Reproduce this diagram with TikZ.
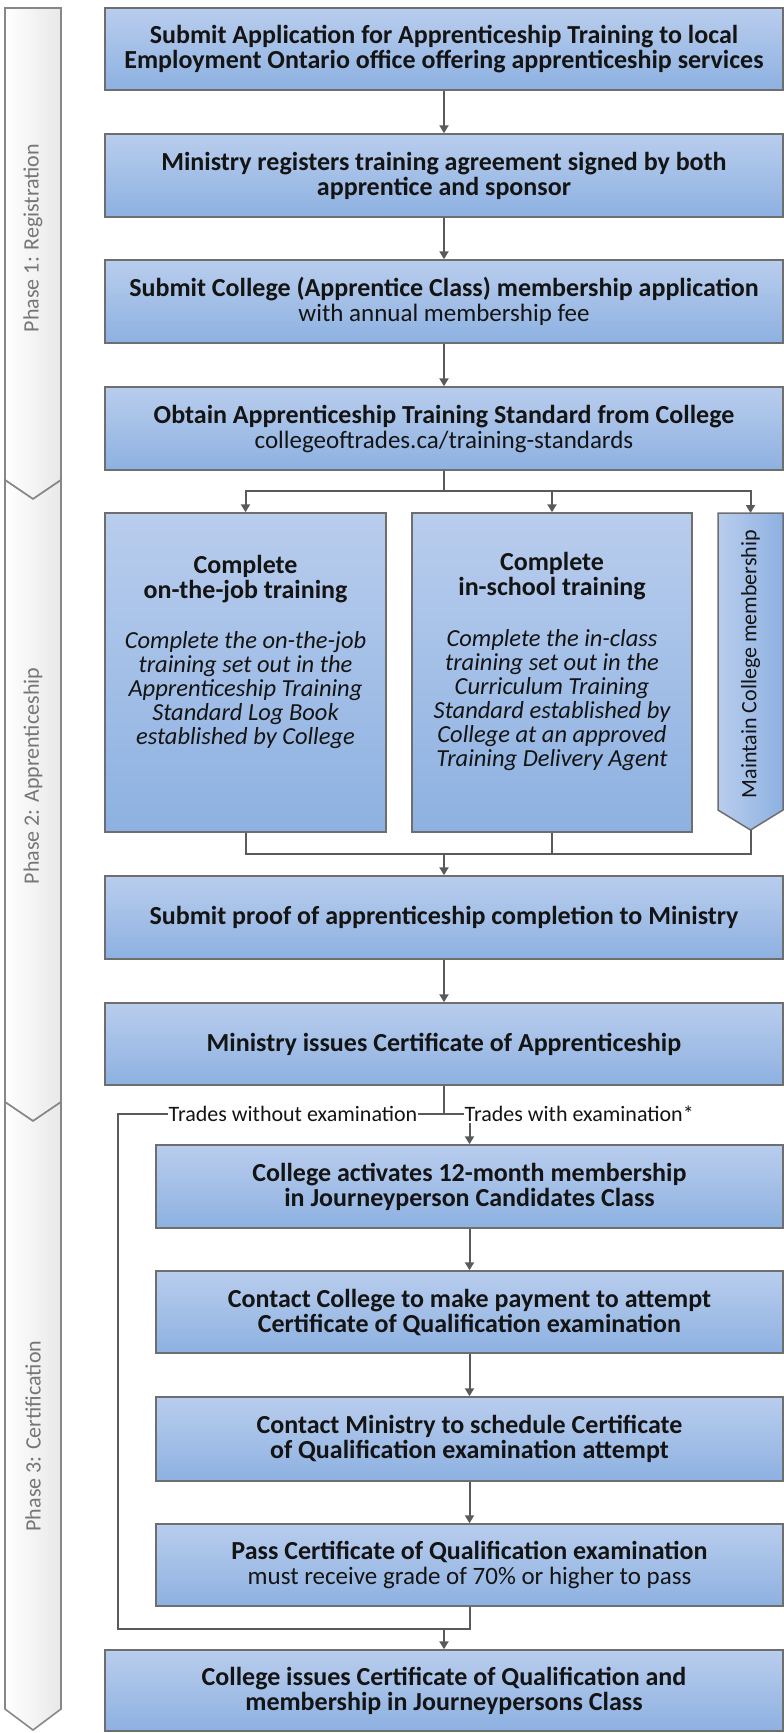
\documentclass[tikz,border=0pt]{standalone}
\usepackage{fontspec}
\setmainfont{Carlito}
\usetikzlibrary{arrows.meta,calc}
\definecolor{boxtop}{RGB}{185,205,237}
\definecolor{boxbot}{RGB}{141,177,225}
\definecolor{boxline}{RGB}{110,110,110}
\definecolor{connc}{RGB}{90,90,90}
\definecolor{phaseline}{RGB}{135,135,135}
\definecolor{phasetext}{RGB}{118,118,118}
\definecolor{txt}{RGB}{20,20,20}
\newcommand\bfbig{\fontsize{26}{25}\selectfont\bfseries}
\newcommand\rgsub{\fontsize{25}{25}\selectfont\mdseries}
\newcommand\itbody{\fontsize{24.5}{24}\selectfont\mdseries\itshape}
\begin{document}
\begin{tikzpicture}[x=1pt,y=-1pt,
 box/.style={draw=boxline, line width=1.5pt, top color=boxtop, bottom color=boxbot, inner sep=0pt, align=center, text=txt, font=\bfbig},
 wide/.style={box, minimum width=678pt, minimum height=82pt},
 mid/.style={box, minimum width=627pt, minimum height=82pt},
 tall/.style={box, minimum width=280pt, minimum height=319pt},
 conn/.style={draw=connc, line width=2pt},
 arr/.style={conn, -{Triangle[width=9pt,length=8pt]}},
 phase/.style={draw=phaseline, line width=1.6pt, left color=white, right color=black!9},
 phaselabel/.style={text=phasetext, rotate=90, inner sep=0pt, font=\fontsize{22}{24}\selectfont},
 lab/.style={fill=white, inner xsep=0.5pt, inner ysep=1pt, font=\fontsize{22}{22}\selectfont, text=txt},
 ttl/.style={align=center, inner sep=0pt, text=txt, font=\bfbig},
 body/.style={align=center, inner sep=0pt, text=txt, font=\itbody}]
\useasboundingbox (0,0) rectangle (784,1733);

% phase bands
\draw[phase] (5,8) -- (61,8) -- (61,480) -- (33,499) -- (5,480) -- cycle;
\draw[phase] (5,480) -- (33,499) -- (61,480) -- (61,1102) -- (33,1121) -- (5,1102) -- cycle;
\draw[phase] (5,1102) -- (33,1121) -- (61,1102) -- (61,1709) -- (33,1730) -- (5,1709) -- cycle;
\node[phaselabel] (p1) at (33,238) {Phase 1: Registration};
\node[phaselabel] (p2) at (33,776) {Phase 2: Apprenticeship};
\node[phaselabel] (p3) at (33,1436) {Phase 3: Certification};

% boxes
\node[wide] (b1) at (444,49) {Submit Application for Apprenticeship Training to local\\Employment Ontario office offering apprenticeship services};
\node[wide, minimum height=83pt] (b2) at (444,175.5) {Ministry registers training agreement signed by both\\apprentice and sponsor};
\node[wide, minimum height=83pt] (b3) at (444,301.5) {Submit College (Apprentice Class) membership application\\\rgsub with annual membership fee};
\node[wide, minimum height=83pt] (b4) at (444,428.5) {Obtain Apprenticeship Training Standard from College\\\rgsub collegeoftrades.ca/training-standards};

\node[tall, minimum width=281pt] (otj) at (245.5,672.5) {};
\node[ttl] (otjh) at (245.5,579) {Complete\\on-the-job training};
\node[body] (otjb) at (245.5,690) {Complete the on-the-job\\training set out in the\\Apprenticeship Training\\Standard Log Book\\established by College};

\node[tall] (ins) at (552,672.5) {};
\node[ttl] (insh) at (552,576.5) {Complete\\in-school training};
\node[body] (insb) at (552,700) {Complete the in-class\\training set out in the\\Curriculum Training\\Standard established by\\College at an approved\\Training Delivery Agent};

\draw[draw=boxline, line width=1.5pt, left color=boxtop, right color=boxbot] (718,513) -- (783,513) -- (783,810) -- (750.5,830) -- (718,810) -- cycle;
\coordinate (memtop) at (750.5,513);
\coordinate (membot) at (750.5,830);
\node[rotate=90, inner sep=0pt, text=txt, font=\fontsize{22}{24}\selectfont] (mem) at (750.5,664) {Maintain College membership};

\node[wide, minimum height=83pt] (proof) at (444,917.5) {Submit proof of apprenticeship completion to Ministry};
\node[wide] (minis) at (444,1044) {Ministry issues Certificate of Apprenticeship};

\node[mid, minimum height=83pt] (act) at (469.5,1186.5) {College activates 12-month membership\\in Journeyperson Candidates Class};
\node[mid] (pay) at (469.5,1312) {Contact College to make payment to attempt\\Certificate of Qualification examination};
\node[mid, minimum height=84pt] (sched) at (469.5,1439) {Contact Ministry to schedule Certificate\\of Qualification examination attempt};
\node[mid] (pass) at (469.5,1565) {Pass Certificate of Qualification examination\\\rgsub must receive grade of 70\% or higher to pass};
\node[wide, minimum height=81pt] (fin) at (444,1690.5) {College issues Certificate of Qualification and\\membership in Journeypersons Class};

% connectors
\draw[arr] (b1.south) -- (b2.north);
\draw[arr] (b2.south) -- (b3.north);
\draw[arr] (b3.south) -- (b4.north);
\coordinate (br1) at (444,491);
\draw[conn] (b4.south) -- (br1);
\draw[arr] (br1) -| (otj.north);
\draw[arr] (br1) -| (ins.north);
\draw[arr] (br1) -| (memtop);
\coordinate (mg1) at (444,854);
\draw[conn] (otj.south) |- (mg1);
\draw[conn] (membot) |- (mg1);
\draw[conn] (ins.south) -- (ins.south |- mg1);
\draw[arr] (mg1) -- (proof.north);
\draw[arr] (proof.south) -- (minis.north);

\coordinate (br2) at (444,1114);
\coordinate (lt) at (118,1114);
\coordinate (lb) at (118,1629);
\coordinate (mg2) at (444,1629);
\draw[conn] (minis.south) -- (br2);
\draw[arr] (br2) -| (act.north);
\draw[conn] (br2) -- (lt) -- (lb) -- (mg2);
\draw[arr] (act.south) -- (pay.north);
\draw[arr] (pay.south) -- (sched.north);
\draw[arr] (sched.south) -- (pass.north);
\draw[conn] (pass.south) |- (mg2);
\draw[arr] (mg2) -- (fin.north);

\node[lab, anchor=west] (lw) at (168,1114) {Trades without examination};
\node[lab, anchor=west] (lx) at (464,1114) {Trades with examination*};
\end{tikzpicture}
\end{document}
